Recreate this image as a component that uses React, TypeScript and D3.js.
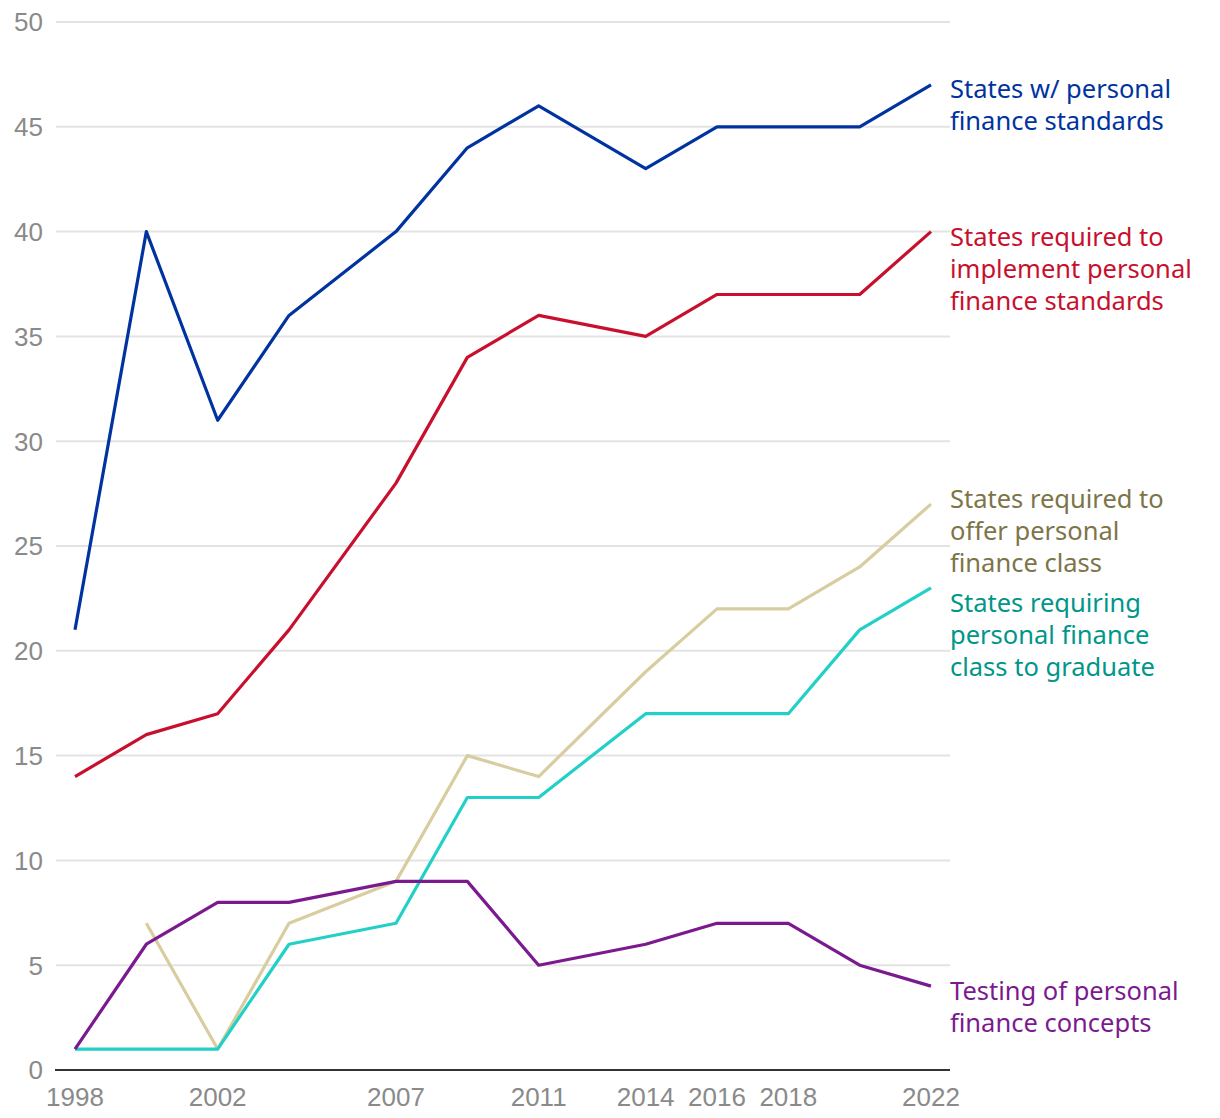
import React from 'react';
import * as d3 from 'd3';

const years = [1998, 2000, 2002, 2004, 2007, 2009, 2011, 2014, 2016, 2018, 2020, 2022];
const tickYears = [1998, 2002, 2007, 2011, 2014, 2016, 2018, 2022];
const yTicks = [0, 5, 10, 15, 20, 25, 30, 35, 40, 45, 50];

const standards = [21, 40, 31, 36, 40, 44, 46, 43, 45, 45, 45, 47];
const implement = [14, 16, 17, 21, 28, 34, 36, 35, 37, 37, 37, 40];
const offer = [null, 7, 1, 7, 9, 15, 14, 19, 22, 22, 24, 27];
const graduate = [1, 1, 1, 6, 7, 13, 13, 17, 17, 17, 21, 23];
const testing = [1, 6, 8, 8, 9, 9, 5, 6, 7, 7, 5, 4];

const series = [
  { name: 'standards', values: standards, line: '#0033a0', text: '#0033a0', label: ['States w/ personal', 'finance standards'], labelY: 89 },
  { name: 'implement', values: implement, line: '#c8102e', text: '#c8102e', label: ['States required to', 'implement personal', 'finance standards'], labelY: 237 },
  { name: 'offer', values: offer, line: '#d8cd9f', text: '#7d7448', label: ['States required to', 'offer personal', 'finance class'], labelY: 499 },
  { name: 'graduate', values: graduate, line: '#22d0c8', text: '#00968a', label: ['States requiring', 'personal finance', 'class to graduate'], labelY: 603 },
  { name: 'testing', values: testing, line: '#7b1a8f', text: '#7b1a8f', label: ['Testing of personal', 'finance concepts'], labelY: 991 },
];

const W = 1220;
const H = 1118;
const labelFont = '"Noto Sans", "DejaVu Sans", sans-serif';
const tickFont = '"Liberation Sans", Arial, sans-serif';

export default function App() {
  const x = d3.scaleLinear().domain([1998, 2022]).range([75, 931]);
  const y = d3.scaleLinear().domain([0, 50]).range([1070, 22]);

  const line = d3
    .line<number | null>()
    .defined((d) => d != null)
    .x((_, i) => x(years[i]))
    .y((d) => y(d as number));

  return (
    <svg width={W} height={H} style={{ position: 'absolute', left: 0, top: 0, background: '#fff' }}>
      {/* grid */}
      {yTicks.map((t) => (
        <g key={t}>
          {t > 0 && <line x1={56} x2={950} y1={y(t)} y2={y(t)} stroke="#e3e3e3" strokeWidth={2} />}
          <text x={43} y={y(t)} dy="0.36em" textAnchor="end" fontFamily={tickFont} fontSize={26} fill="#8a8a8a">
            {t}
          </text>
        </g>
      ))}
      <line x1={55} x2={950} y1={y(0)} y2={y(0)} stroke="#333" strokeWidth={2} />
      {tickYears.map((t) => (
        <text key={t} x={x(t)} y={1106} textAnchor="middle" fontFamily={tickFont} fontSize={26} fill="#8a8a8a">
          {t}
        </text>
      ))}
      {/* lines */}
      {series.map((s) => (
        <path key={s.name} d={line(s.values) || ''} fill="none" stroke={s.line} strokeWidth={3.2} strokeLinejoin="round" />
      ))}
      {/* labels */}
      {series.map((s) => (
        <text key={s.name + '-l'} fontFamily={labelFont} fontSize={25.5} fill={s.text}>
          {s.label.map((l, i) => (
            <tspan key={i} x={950} y={s.labelY + i * 32} dy="0.36em">
              {l}
            </tspan>
          ))}
        </text>
      ))}
    </svg>
  );
}
